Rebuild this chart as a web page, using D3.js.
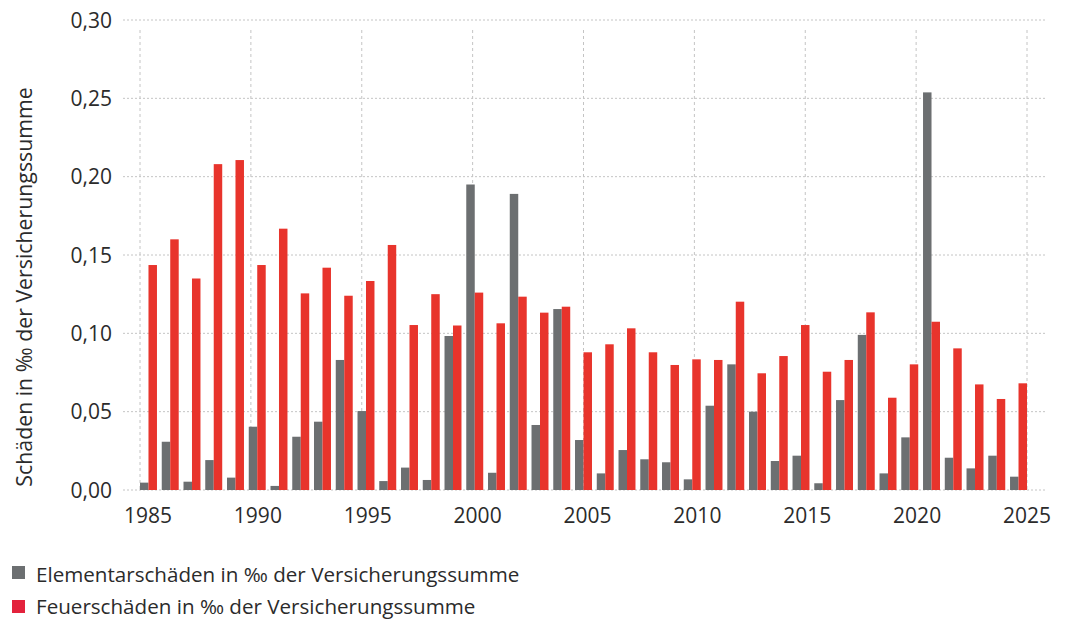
<!DOCTYPE html>
<html><head><meta charset="utf-8">
<script src="https://cdn.jsdelivr.net/npm/d3@7"></script>
<style>
body{margin:0;background:#fff;}
svg text{font-family:"Open Sans",sans-serif;fill:#2b2b2b;}
</style></head>
<body><svg id="c" width="1069" height="621"></svg>
<script>
const years = d3.range(1985, 2026);
const elementar = [0.0047,0.0308,0.0053,0.0191,0.0079,0.0404,0.0026,0.0340,0.0436,0.0830,0.0504,0.0057,
  0.0143,0.0064,0.0983,0.1950,0.0110,0.1890,0.0415,0.1155,0.0319,0.0106,0.0255,0.0196,0.0177,
  0.0068,0.0538,0.0802,0.0500,0.0185,0.0219,0.0043,0.0574,0.0990,0.0106,0.0336,0.2538,0.0206,0.0138,0.0219,0.0085];
const feuer = [0.1436,0.1600,0.1350,0.2080,0.2106,0.1436,0.1668,0.1255,0.1419,0.1240,0.1334,0.1564,
  0.1053,0.1250,0.1050,0.1260,0.1064,0.1234,0.1132,0.1170,0.0879,0.0930,0.1032,0.0879,0.0798,
  0.0834,0.0830,0.1202,0.0745,0.0855,0.1053,0.0755,0.0830,0.1134,0.0589,0.0802,0.1074,0.0904,0.0674,0.0581,0.0681];
const yTicks = [0,0.05,0.10,0.15,0.20,0.25,0.30];
const xTicks = [1985,1990,1995,2000,2005,2010,2015,2020,2025];
const seriesNames = ["Elementarschäden in ‰ der Versicherungssumme","Feuerschäden in ‰ der Versicherungssumme"];
const colors = ["#6c6f71","#e8342c"];
const legendColors = ["#6c6f71","#e3223c"];

const svg = d3.select("#c");
const pLeft = 140, pRight = 1027, pTop = 20, pBottom = 490;
const y = d3.scaleLinear().domain([0,0.30]).range([pBottom, pTop]);
const xGrid = d3.scaleLinear().domain([1985,2025]).range([pLeft, pRight]);
const xLab = d3.scaleLinear().domain([1985,2025]).range([148, 1027]);
const xb = d3.scaleBand().domain(years).range([pLeft, pRight]).paddingInner(0.22).paddingOuter(0);
const xs = d3.scaleBand().domain([0,1]).range([0, xb.bandwidth()]);

// horizontal grid
svg.append("g").selectAll("line").data(yTicks).join("line")
  .attr("x1",123).attr("x2",1046).attr("y1",d=>y(d)).attr("y2",d=>y(d))
  .attr("stroke","#c4c4c4").attr("stroke-width",1).attr("stroke-dasharray","2,2");
// vertical grid
svg.append("g").selectAll("line").data(xTicks).join("line")
  .attr("x1",d=>xGrid(d)).attr("x2",d=>xGrid(d)).attr("y1",30).attr("y2",pBottom)
  .attr("stroke","#c4c4c4").attr("stroke-width",1).attr("stroke-dasharray","3,3");

// bars
const g = svg.append("g");
[elementar, feuer].forEach((arr, si) => {
  g.append("g").selectAll("rect").data(arr).join("rect")
    .attr("x",(d,i)=>xb(years[i]) + xs(si))
    .attr("width", xs.bandwidth())
    .attr("y", d=>y(d))
    .attr("height", d=>y(0)-y(d))
    .attr("fill", colors[si]);
});

// y tick labels
svg.append("g").selectAll("text").data(yTicks).join("text")
  .attr("x",112).attr("y",d=>y(d)).attr("dy","0.36em")
  .attr("text-anchor","end").style("font-size","21px")
  .text(d=>d3.format(".2f")(d).replace(".",","));
// x tick labels
svg.append("g").selectAll("text").data(xTicks).join("text")
  .attr("x",d=>xLab(d)).attr("y",523)
  .attr("text-anchor","middle").style("font-size","21px")
  .text(d=>d);

// y title
svg.append("text").attr("transform","translate(32,287) rotate(-90)")
  .attr("text-anchor","middle").style("font-size","21.3px")
  .text("Schäden in ‰ der Versicherungssumme");

// legend
const lg = svg.append("g");
seriesNames.forEach((n,i)=>{
  lg.append("rect").attr("x",12).attr("y",566+i*34).attr("width",13).attr("height",13).attr("fill",legendColors[i]);
  lg.append("text").attr("x",36).attr("y",582+i*32).style("font-size","20.6px").text(n);
});
</script></body></html>
